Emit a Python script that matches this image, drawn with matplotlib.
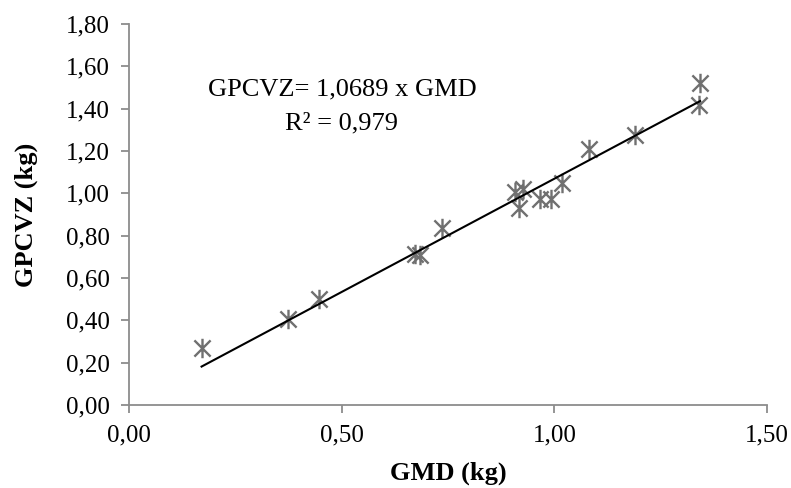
import matplotlib
matplotlib.use('Agg')
import matplotlib.pyplot as plt
import numpy as np
from matplotlib.path import Path
from matplotlib.ticker import FuncFormatter, MultipleLocator

plt.rcParams['font.family'] = ['Liberation Serif', 'DejaVu Serif']

# values
gmd = [0.170, 0.373, 0.447, 0.672, 0.685, 0.735, 0.908, 0.917, 0.927,
       0.967, 0.991, 1.017, 1.082, 1.190, 1.341, 1.343]
gpcvz = [0.271, 0.406, 0.500, 0.713, 0.708, 0.835, 1.008, 0.930, 1.018,
         0.972, 0.972, 1.050, 1.208, 1.275, 1.417, 1.523]
slope = 1.0689
r2 = 0.979

# excel-like star marker: an X with a vertical bar
star = Path([(-1, -1), (1, 1), (-1, 1), (1, -1), (0, -1.2), (0, 1.2)],
            [Path.MOVETO, Path.LINETO, Path.MOVETO, Path.LINETO,
             Path.MOVETO, Path.LINETO])

fig = plt.figure(figsize=(7.91, 4.88), dpi=100)
ax = fig.add_axes([0.1635, 0.170, 0.806, 0.781])

ax.plot(gmd, gpcvz, linestyle='none', marker=star, markersize=14,
        markerfacecolor='none', markeredgecolor='#707070', markeredgewidth=1.7)

xs = np.array([min(gmd), max(gmd)])
ax.plot(xs, slope * xs, color='black', linewidth=1.5)

ax.set_xlim(0, 1.5)
ax.set_ylim(0, 1.8)
ax.xaxis.set_major_locator(MultipleLocator(0.5))
ax.yaxis.set_major_locator(MultipleLocator(0.2))
fmt = FuncFormatter(lambda v, p: f'{v:.2f}'.replace('.', ','))
ax.xaxis.set_major_formatter(fmt)
ax.yaxis.set_major_formatter(fmt)

for s in ['top', 'right']:
    ax.spines[s].set_visible(False)
for s in ['left', 'bottom']:
    ax.spines[s].set_color('#8c8c8c')
    ax.spines[s].set_linewidth(1.3)
ax.tick_params(direction='out', length=6, width=1.3, color='#8c8c8c',
               labelsize=18, pad=8)

ax.set_xlabel('GMD (kg)', fontsize=19, fontweight='bold', labelpad=11)
ax.set_ylabel('GPCVZ (kg)', fontsize=19, fontweight='bold', labelpad=20)

ax.text(0.50, 1.49, f'GPCVZ= {slope:.4f} x GMD'.replace('.', ','),
        ha='center', va='center', fontsize=19)
ax.text(0.50, 1.33, f'R² = {r2:.3f}'.replace('.', ','),
        ha='center', va='center', fontsize=19)

fig.savefig('out.png', dpi=100)
